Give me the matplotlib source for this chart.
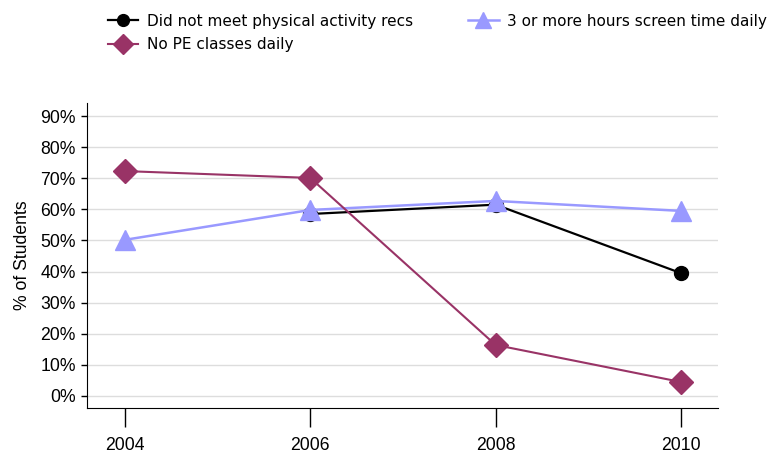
import matplotlib
matplotlib.use("Agg")
import matplotlib.pyplot as plt
from matplotlib.ticker import FuncFormatter

years = [2004, 2006, 2008, 2010]
no_activity = [None, 58.5, 61.5, 39.5]
no_pe = [72.3, 70.1, 16.4, 4.5]
screen_time = [50.2, 59.8, 62.7, 59.5]

yticks = [0, 10, 20, 30, 40, 50, 60, 70, 80, 90]

fig = plt.figure(figsize=(7.72, 4.58), dpi=100)
ax = fig.add_axes([0.1127, 0.1092, 0.8173, 0.666])

l1, = ax.plot(years[1:], no_activity[1:], color="black", lw=1.6, marker="o",
              markersize=10, label="Did not meet physical activity recs", zorder=3)
l2, = ax.plot(years, no_pe, color="#993366", lw=1.5, marker="D",
              markersize=12, label="No PE classes daily", zorder=4)
l3, = ax.plot(years, screen_time, color="#9999ff", lw=1.8, marker="^",
              markersize=14, label="3 or more hours screen time daily", zorder=3)

ax.set_xlim(2003.59, 2010.4)
ax.set_ylim(-3.86, 94.2)
ax.set_xticks(years)
ax.set_yticks(yticks)
ax.yaxis.set_major_formatter(FuncFormatter(lambda v, p: f"{int(v)}%"))
ax.grid(axis="y", color="#dddddd", lw=1)
ax.set_axisbelow(True)
ax.spines["top"].set_visible(False)
ax.spines["right"].set_visible(False)
ax.tick_params(axis="x", length=14, width=1, pad=7, labelsize=12.7)
ax.tick_params(axis="y", length=4, width=1, pad=4, labelsize=12.7)
for lab in ax.get_xticklabels() + ax.get_yticklabels():
    lab.set_family("Liberation Sans")
ax.set_ylabel("% of Students", fontsize=12.7, family="Liberation Sans", labelpad=7)

fig.legend(handles=[l1, l2, l3], loc="upper left", bbox_to_anchor=(0.122, 1.0),
           ncol=2, frameon=False, fontsize=11, handlelength=2.0,
           columnspacing=3.6, labelspacing=0.55, handletextpad=0.55,
           markerscale=0.85, borderaxespad=0.5)

fig.savefig("out.png", dpi=100)
